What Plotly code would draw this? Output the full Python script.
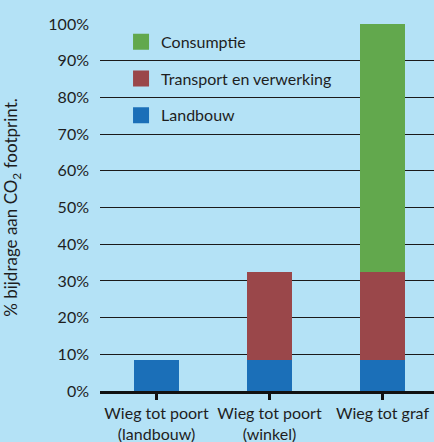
import plotly.graph_objects as go

categories = ["Wieg tot poort<br>(landbouw)", "Wieg tot poort<br>(winkel)", "Wieg tot graf"]
series_names = ["Landbouw", "Transport en verwerking", "Consumptie"]
landbouw = [8.5, 8.5, 8.5]
transport = [0, 24.0, 23.8]
consumptie = [0, 0, 67.7]
tick_vals = [0, 10, 20, 30, 40, 50, 60, 70, 80, 90, 100]
tick_text = ["0%", "10%", "20%", "30%", "40%", "50%", "60%", "70%", "80%", "90%", "100%"]
colors = ["#1b6fb8", "#9a474a", "#62a84d"]

FONT = "Lato"
TXT = "#1e1e1e"
W = 400

fig = go.Figure()
for name, vals, col in zip(series_names, [landbouw, transport, consumptie], colors):
    fig.add_trace(go.Bar(name=name, x=[0, 1, 2], y=vals, marker_color=col,
                         marker_line_width=0, width=0.4, showlegend=False))
# legend entries (square swatches), top to bottom: Consumptie, Transport, Landbouw
for name, col in reversed(list(zip(series_names, colors))):
    fig.add_trace(go.Scatter(name=name, x=[None], y=[None], mode="markers",
                             marker=dict(symbol="square", size=16, color=col, line_width=0),
                             legendgroup=name, showlegend=True))

fig.update_layout(
    barmode="stack",
    width=434, height=442,
    margin=dict(l=100, r=0, t=24, b=51),
    paper_bgcolor="#b4e2f6", plot_bgcolor="#b4e2f6",
    font=dict(family=FONT, size=16, color=TXT, weight=W),
    showlegend=True,
    legend=dict(x=0.063, y=0.998, xanchor="left", yanchor="top", traceorder="grouped",
                bgcolor="rgba(0,0,0,0)", font=dict(size=16, color=TXT, weight=W),
                tracegroupgap=13, itemwidth=30, itemsizing="trace"),
    xaxis=dict(range=[-0.5, 2.456], tickmode="array", tickvals=[0, 1, 2], ticktext=categories,
               showgrid=False, showline=True, linecolor="#111111", linewidth=2.5,
               ticks="outside", tickson="boundaries", ticklen=6, tickwidth=2.5, tickcolor="#111111",
               zeroline=False, tickfont=dict(size=16, color=TXT, weight=W)),
    yaxis=dict(range=[0, 100], tickmode="array", tickvals=tick_vals, ticktext=tick_text,
               showgrid=True, gridcolor="#1a1a1a", gridwidth=1.4, zeroline=False,
               showline=False, ticks="", ticklabelstandoff=10,
               tickfont=dict(size=16, color=TXT, weight=W),
               title=dict(text="% bijdrage aan CO<sub>2</sub> footprint.", standoff=27,
                          font=dict(size=17, color=TXT, weight=W))),
)

fig.write_html("out.html", config={"displayModeBar": False},
               post_script="document.body.style.margin='0';document.body.style.overflow='hidden';")
